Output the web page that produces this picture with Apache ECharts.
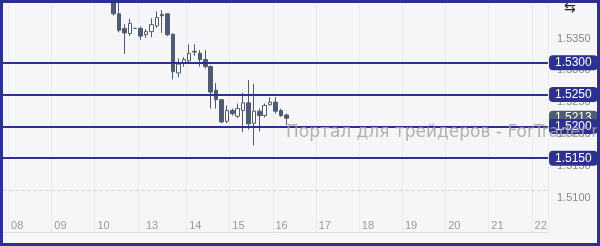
<!DOCTYPE html>
<html><head><meta charset="utf-8">
<script src="https://cdn.jsdelivr.net/npm/echarts@6/dist/echarts.min.js"></script>
<style>html,body{margin:0;padding:0;background:#f6f6f8}#c{width:600px;height:246px}</style>
</head><body><div id="c"></div>
<script>
// ---- data ----
const dayNames = ['07','08','09','10','12','13','14','15','16','17','18','19','20','21','22'];
const fullDayHours = ['00','03','06','09','12','15','18','21'];
const partialDayHours = { '07': ['21'], '12': ['21'], '22': ['00','03','06'] };
const xTickDays = ['08','09','10','13','14','15','16','17','18','19','20','21','22'];
const xGridDays = ['08','09','10','12','14','15','16','17','18','19','20','21','22'];
const firstCandle = '10 09:00';
const opens  = [1.5405,1.5377,1.5354,1.5346,1.5354,1.5354,1.5344,1.5349,1.5358,1.5376,1.5377,1.5345,1.5284,1.5299,1.5303,1.5318,1.5315,1.5305,1.5294,1.5257,1.5242,1.5208,1.5225,1.5216,1.5225,1.5237,1.5205,1.5224,1.5217,1.5234,1.5238,1.5225,1.5218];
const closes = [1.5377,1.5351,1.5347,1.5362,1.5354,1.5342,1.5349,1.5360,1.5371,1.5374,1.5344,1.5286,1.5298,1.5305,1.5315,1.5317,1.5305,1.5294,1.5254,1.5242,1.5207,1.5225,1.5220,1.5228,1.5237,1.5204,1.5224,1.5217,1.5233,1.5238,1.5224,1.5217,1.5213];
const lows   = [1.5374,1.5348,1.5314,1.5342,1.5353,1.5336,1.5339,1.5340,1.5355,1.5347,1.5342,1.5274,1.5277,1.5294,1.5301,1.5311,1.5294,1.5291,1.5228,1.5228,1.5205,1.5205,1.5217,1.5213,1.5191,1.5195,1.5170,1.5192,1.5214,1.5233,1.5220,1.5215,1.5202];
const highs  = [1.5412,1.5394,1.5361,1.5369,1.5355,1.5357,1.5353,1.5370,1.5381,1.5383,1.5378,1.5346,1.5307,1.5309,1.5329,1.5329,1.5320,1.5320,1.5296,1.5268,1.5243,1.5233,1.5228,1.5236,1.5253,1.5273,1.5267,1.5228,1.5236,1.5246,1.5246,1.5228,1.5220];
const levels = [1.5300, 1.5250, 1.5200, 1.5150];
const lastPrice = 1.5213;
const dashedLevel = 1.5100;
const yTickLabels = [1.5100, 1.5150, 1.5200, 1.5250, 1.5300, 1.5350];
const yMin = 1.5034, yMax = 1.5394;
const watermark = 'Портал для трейдеров - ForTrader.ru';

// ---- build ----
const cats = [];
dayNames.forEach(d => (partialDayHours[d] || fullDayHours).forEach(h => cats.push(d + ' ' + h + ':00')));
const startIdx = cats.indexOf(firstCandle);
const seriesData = cats.map((c, i) => {
  const k = i - startIdx;
  return (k >= 0 && k < opens.length) ? [opens[k], closes[k], lows[k], highs[k]] : '-';
});
const firstSlot = d => d + ' ' + (partialDayHours[d] || fullDayHours)[0] + ':00';
const tickSet = new Set(xTickDays.map(firstSlot));
const gridSet = new Set(xGridDays.map(firstSlot));

const navy = '#2c3190', slate = '#4f5b72';
const FONT = 'Liberation Sans';
const badge = (bg) => ({
  show: true, position: 'end', distance: 1,
  formatter: p => Number(p.value).toFixed(4),
  backgroundColor: bg, color: '#fff', fontSize: 12, fontFamily: FONT,
  padding: [2, 6, 1, 6], lineHeight: 12, borderRadius: 4
});

const chart = echarts.init(document.getElementById('c'), null, { renderer: 'canvas' });
chart.setOption({
  backgroundColor: '#f6f6f8',
  animation: false,
  title: {
    text: watermark, left: 281, top: 119, zlevel: 1, z: 100,
    textStyle: { fontSize: 17, fontWeight: 'normal', fontFamily: 'DejaVu Sans', color: 'rgba(165,165,165,0.85)' }
  },
  grid: { left: 3, right: 52, top: 3, bottom: 14 },
  xAxis: {
    type: 'category', data: cats, boundaryGap: true,
    axisLine: { lineStyle: { color: '#dedede' } },
    axisTick: { show: false },
    axisLabel: {
      inside: true, margin: 1, align: 'left',
      interval: (i, v) => tickSet.has(v),
      formatter: v => v.slice(0, 2),
      color: '#9a9a9a', fontSize: 11, fontFamily: FONT
    },
    splitLine: { show: true, interval: (i, v) => gridSet.has(v), lineStyle: { color: '#e2e2e4', type: 'dotted' } }
  },
  yAxis: {
    type: 'value', position: 'right', min: yMin, max: yMax, scale: true,
    axisLine: { show: false }, axisTick: { show: false }, splitLine: { show: false },
    axisLabel: {
      customValues: yTickLabels, formatter: v => v.toFixed(4),
      color: '#888', fontSize: 11, fontFamily: FONT, margin: 9,
      verticalAlign: 'top', lineHeight: 15
    }
  },
  series: [{
    type: 'candlestick', data: seriesData, barWidth: 4, clip: true,
    itemStyle: { color: '#ffffff', color0: slate, borderColor: slate, borderColor0: slate, borderWidth: 1 },
    markLine: {
      silent: true, symbol: ['none', 'none'], precision: 4, animation: false,
      data: [
        { yAxis: dashedLevel, lineStyle: { color: '#d6d6d6', type: 'dashed', width: 1 }, label: { show: false } },
        { yAxis: lastPrice, lineStyle: { color: 'transparent', width: 0 }, label: badge(slate) },
        ...levels.map(v => ({ yAxis: v, lineStyle: { color: navy, width: 2, type: 'solid' }, label: badge(navy) }))
      ]
    }
  }],
  graphic: [
    { type: 'text', left: 564, top: 1, zlevel: 1, z: 100, silent: true,
      style: { text: '⇆', fontSize: 14, fontFamily: 'DejaVu Sans', fill: '#222' } },
    { type: 'rect', zlevel: 1, z: 200, silent: true,
      shape: { x: 1.5, y: 1.5, width: 597, height: 243 },
      style: { fill: 'none', stroke: navy, lineWidth: 3 } }
  ]
});
</script></body></html>
